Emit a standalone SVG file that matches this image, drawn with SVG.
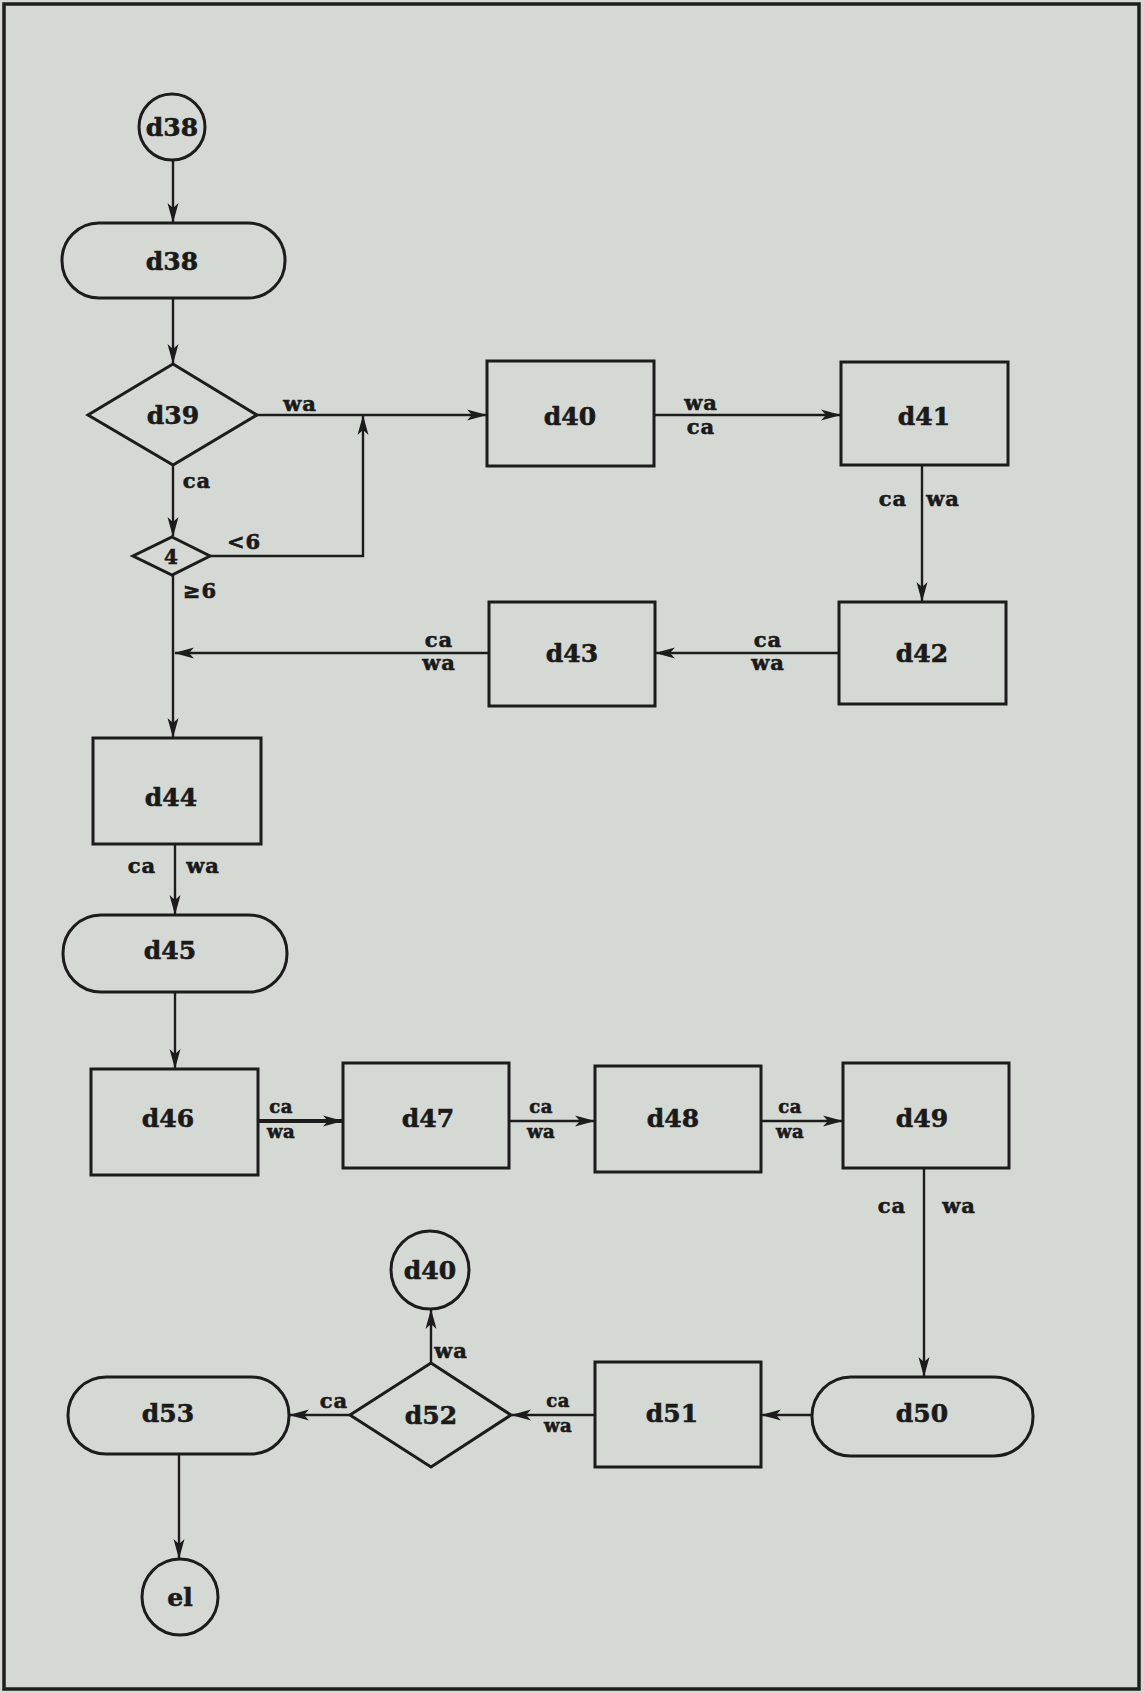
<svg xmlns="http://www.w3.org/2000/svg" width="1144" height="1693" viewBox="0 0 1144 1693">
<defs>
<style>
.bg{fill:#d5d9d3}
.frame{fill:none;stroke:#1e1e1e;stroke-width:3.5}
.node{fill:none;stroke:#1c1c1c;stroke-width:3}
.edge{fill:none;stroke:#1c1c1c;stroke-width:2.4}
.thick{stroke-width:4}
.t{font-family:"DejaVu Serif","Liberation Serif",serif;font-weight:bold;font-size:25px;fill:#1a1a1a;text-anchor:middle;stroke:#1a1a1a;stroke-width:0.6}
.l{font-family:"DejaVu Serif","Liberation Serif",serif;font-weight:bold;font-size:21px;fill:#1a1a1a;text-anchor:middle;letter-spacing:1px;stroke:#1a1a1a;stroke-width:0.6}
.s{font-size:18px;letter-spacing:0.5px}
</style>
<marker id="ah" viewBox="0 0 20 12" refX="19" refY="6" markerWidth="20" markerHeight="12" markerUnits="userSpaceOnUse" orient="auto">
<path d="M0,0.5 L20,6 L0,11.5 L5,6 Z" fill="#1c1c1c"/>
</marker>
</defs>
<rect class="bg" x="0" y="0" width="1144" height="1693"/>
<rect class="frame" x="4" y="4" width="1135" height="1685"/>

<g id="connectors">
<line class="edge" x1="173" y1="160" x2="173" y2="222" marker-end="url(#ah)"/>
<line class="edge" x1="173" y1="298" x2="173" y2="363" marker-end="url(#ah)"/>
<line class="edge" x1="257" y1="415" x2="486" y2="415" marker-end="url(#ah)"/>
<line class="edge" x1="173" y1="465" x2="173" y2="536" marker-end="url(#ah)"/>
<polyline class="edge" points="210,556 363,556 363,416" marker-end="url(#ah)"/>
<line class="edge" x1="173" y1="575" x2="173" y2="737" marker-end="url(#ah)"/>
<line class="edge" x1="654" y1="415" x2="840" y2="415" marker-end="url(#ah)"/>
<line class="edge" x1="922" y1="465" x2="922" y2="601" marker-end="url(#ah)"/>
<line class="edge" x1="839" y1="653" x2="656" y2="653" marker-end="url(#ah)"/>
<line class="edge" x1="489" y1="653" x2="175" y2="653" marker-end="url(#ah)"/>
<line class="edge" x1="175" y1="844" x2="175" y2="914" marker-end="url(#ah)"/>
<line class="edge" x1="175" y1="992" x2="175" y2="1068" marker-end="url(#ah)"/>
<line class="edge thick" x1="258" y1="1121" x2="342" y2="1121" marker-end="url(#ah)"/>
<line class="edge" x1="509" y1="1121" x2="594" y2="1121" marker-end="url(#ah)"/>
<line class="edge" x1="761" y1="1121" x2="842" y2="1121" marker-end="url(#ah)"/>
<line class="edge" x1="924" y1="1168" x2="924" y2="1376" marker-end="url(#ah)"/>
<line class="edge" x1="812" y1="1415" x2="762" y2="1415" marker-end="url(#ah)"/>
<line class="edge" x1="595" y1="1415" x2="512" y2="1415" marker-end="url(#ah)"/>
<line class="edge" x1="431" y1="1363" x2="431" y2="1310" marker-end="url(#ah)"/>
<line class="edge" x1="350" y1="1415" x2="290" y2="1415" marker-end="url(#ah)"/>
<line class="edge" x1="179" y1="1454" x2="179" y2="1558" marker-end="url(#ah)"/>
<text class="l" x="300" y="411">wa</text>
<text class="l" x="197" y="488">ca</text>
<text class="l" x="244" y="549">&lt;6</text>
<text class="l" x="200" y="598">≥6</text>
<text class="l" x="701" y="410">wa</text>
<text class="l" x="701" y="434">ca</text>
<text class="l" x="893" y="506">ca</text>
<text class="l" x="943" y="506">wa</text>
<text class="l" x="768" y="647">ca</text>
<text class="l" x="768" y="670">wa</text>
<text class="l" x="439" y="647">ca</text>
<text class="l" x="439" y="670">wa</text>
<text class="l" x="142" y="873">ca</text>
<text class="l" x="203" y="873">wa</text>
<text class="l s" x="281" y="1113">ca</text>
<text class="l s" x="281" y="1138">wa</text>
<text class="l s" x="541" y="1113">ca</text>
<text class="l s" x="541" y="1138">wa</text>
<text class="l s" x="790" y="1113">ca</text>
<text class="l s" x="790" y="1138">wa</text>
<text class="l" x="892" y="1213">ca</text>
<text class="l" x="959" y="1213">wa</text>
<text class="l s" x="558" y="1407">ca</text>
<text class="l s" x="558" y="1432">wa</text>
<text class="l" x="451" y="1358">wa</text>
<text class="l" x="334" y="1408">ca</text>
</g>

<g id="n-d38c"><circle class="node" cx="172" cy="127" r="33"/><text class="t" x="172" y="136">d38</text></g>
<g id="n-d38"><rect class="node" x="62" y="223" width="223" height="75" rx="37"/><text class="t" x="172" y="270">d38</text></g>
<g id="n-d39"><polygon class="node" points="173,364 257,415 173,465 88,415"/><text class="t" x="173" y="424">d39</text></g>
<g id="n-4"><polygon class="node" points="172,537 210,556 172,575 133,556"/><text class="t" x="171" y="564" style="font-size:20px">4</text></g>
<g id="n-d40"><rect class="node" x="487" y="361" width="167" height="105"/><text class="t" x="570" y="425">d40</text></g>
<g id="n-d41"><rect class="node" x="841" y="362" width="167" height="103"/><text class="t" x="924" y="425">d41</text></g>
<g id="n-d42"><rect class="node" x="839" y="602" width="167" height="102"/><text class="t" x="922" y="662">d42</text></g>
<g id="n-d43"><rect class="node" x="489" y="602" width="166" height="104"/><text class="t" x="572" y="662">d43</text></g>
<g id="n-d44"><rect class="node" x="93" y="738" width="168" height="106"/><text class="t" x="171" y="806">d44</text></g>
<g id="n-d45"><rect class="node" x="63" y="915" width="224" height="77" rx="38"/><text class="t" x="170" y="959">d45</text></g>
<g id="n-d46"><rect class="node" x="91" y="1069" width="167" height="106"/><text class="t" x="168" y="1127">d46</text></g>
<g id="n-d47"><rect class="node" x="343" y="1063" width="166" height="105"/><text class="t" x="428" y="1127">d47</text></g>
<g id="n-d48"><rect class="node" x="595" y="1066" width="166" height="106"/><text class="t" x="673" y="1127">d48</text></g>
<g id="n-d49"><rect class="node" x="843" y="1063" width="166" height="105"/><text class="t" x="922" y="1127">d49</text></g>
<g id="n-d50"><rect class="node" x="812" y="1377" width="221" height="79" rx="39"/><text class="t" x="922" y="1422">d50</text></g>
<g id="n-d51"><rect class="node" x="595" y="1362" width="166" height="105"/><text class="t" x="672" y="1422">d51</text></g>
<g id="n-d52"><polygon class="node" points="431,1363 511,1415 431,1467 350,1415"/><text class="t" x="431" y="1424">d52</text></g>
<g id="n-d40c"><circle class="node" cx="430" cy="1270" r="39"/><text class="t" x="430" y="1279">d40</text></g>
<g id="n-d53"><rect class="node" x="68" y="1377" width="221" height="77" rx="38"/><text class="t" x="168" y="1422">d53</text></g>
<g id="n-el"><circle class="node" cx="180" cy="1597" r="38"/><text class="t" x="180" y="1606">el</text></g>
</svg>
